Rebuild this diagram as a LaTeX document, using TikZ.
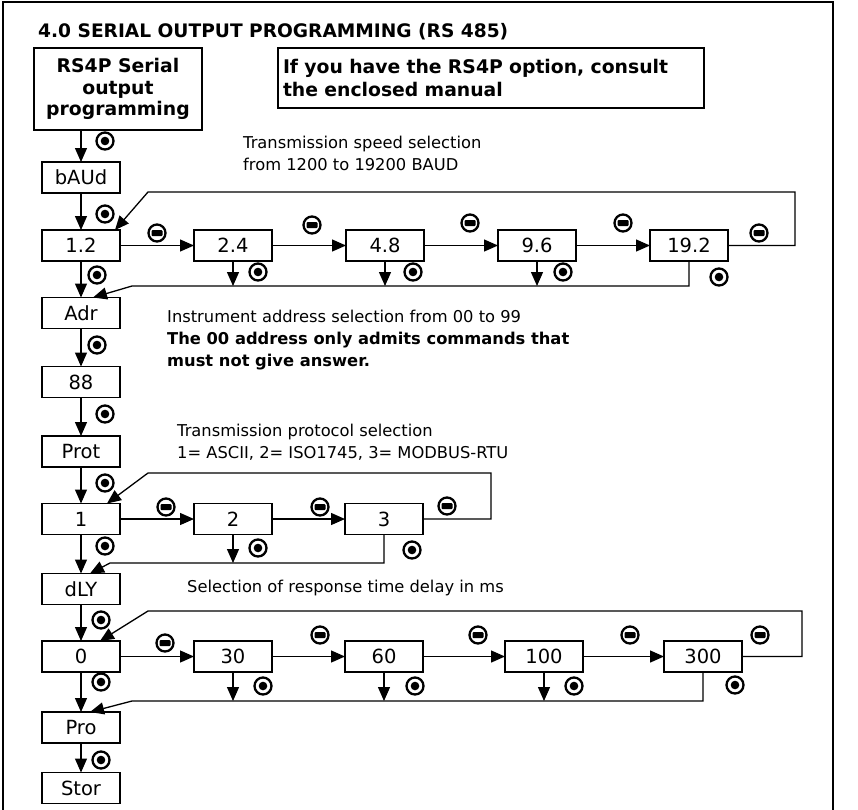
\documentclass[tikz,border=0pt]{standalone}
\usepackage{fontspec}
\setmainfont{DejaVu Sans}
\usetikzlibrary{arrows.meta, positioning}

\begin{document}
\begin{tikzpicture}[
  x=1pt, y=-1pt,
  font=\fontsize{16.3}{22}\selectfont,
  val/.style={draw, line width=1.3pt, minimum width=78pt, minimum height=31pt, inner sep=0pt, outer sep=0pt, font=\fontsize{19.5}{22}\selectfont},
  info/.style={anchor=west, align=left, inner sep=0pt},
  arr/.style={line width=1.3pt, -{Triangle[length=14pt,width=12pt]}},
  okkey/.style={circle, draw, line width=2.3pt, minimum size=17pt, inner sep=0pt,
    path picture={\fill (path picture bounding box.center) circle (4.3pt);}},
  dnkey/.style={circle, draw, line width=2.3pt, minimum size=17pt, inner sep=0pt,
    path picture={\fill[rounded corners=1pt] ([xshift=-5.5pt,yshift=-3pt]path picture bounding box.center) rectangle ([xshift=5.5pt,yshift=3pt]path picture bounding box.center);}}
]
\useasboundingbox (0,0) rectangle (858,809);
\draw[line width=2pt] (3,812) -- (3,2) -- (833,2) -- (833,812);

\node[anchor=base west, inner sep=0pt, font=\bfseries\fontsize{18.6}{22}\selectfont] (title) at (38,37) {4.0 SERIAL OUTPUT PROGRAMMING (RS 485)};
\node[draw, line width=1.3pt, minimum width=168pt, minimum height=82pt, align=center, font=\bfseries\fontsize{18.8}{21.5}\selectfont] (rs4p) at (118,89) {RS4P Serial\\output\\programming};
\node[draw, line width=1.3pt, minimum width=426pt, minimum height=60pt, text width=416pt, inner xsep=5pt, align=left, font=\bfseries\fontsize{18.8}{23}\selectfont] (note) at (491,78) {If you have the RS4P option, consult\\the enclosed manual};

% menu column
\node[val] (baud) at (81,177.5) {bAUd};
\node[val, below=37pt of baud] (b12) {1.2};
\node[val, below=36.5pt of b12] (adr) {Adr};
\node[val, below=38pt of adr] (addr) {88};
\node[val, below=38.5pt of addr] (prot) {Prot};
\node[val, below=36.5pt of prot] (p1) {1};
\node[val, below=39pt of p1] (dly) {dLY};
\node[val, below=36.5pt of dly] (d0) {0};
\node[val, below=40pt of d0] (pro) {Pro};
\node[val, below=29.5pt of pro] (stor) {Stor};

% baud rates
\node[val, right=74pt of b12] (b24) {2.4};
\node[val, right=74pt of b24] (b48) {4.8};
\node[val, right=74pt of b48] (b96) {9.6};
\node[val, right=74pt of b96] (b192) {19.2};

% protocols
\node[val, right=74pt of p1] (p2) {2};
\node[val, right=73pt of p2] (p3) {3};

% delays
\node[val, right=74pt of d0] (d30) {30};
\node[val, right=73pt of d30] (d60) {60};
\node[val, right=82pt of d60] (d100) {100};
\node[val, right=81pt of d100] (d300) {300};

\node[info] (speed) at (243,153) {Transmission speed selection\\from 1200 to 19200 BAUD};
\node[info] (address) at (167,340) {Instrument address selection from 00 to 99\\\textbf{The 00 address only admits commands that}\\\textbf{must not give answer.}};
\node[info] (protocol) at (177,442) {Transmission protocol selection\\1= ASCII, 2= ISO1745, 3= MODBUS-RTU};
\node[info] (delay) at (187,588) {Selection of response time delay in ms};

\draw[arr] (baud.north |- rs4p.south) -- (baud);
\draw[arr] (baud) -- (b12);
\draw[arr] (b12) -- (adr);
\draw[arr] (adr) -- (addr);
\draw[arr] (addr) -- (prot);
\draw[arr] (prot) -- (p1);
\draw[arr] (p1) -- (dly);
\draw[arr] (dly) -- (d0);
\draw[arr] (d0) -- (pro);
\draw[arr] (pro) -- (stor);

\draw[arr] (b12) -- (b24);
\draw[arr] (b24) -- (b48);
\draw[arr] (b48) -- (b96);
\draw[arr] (b96) -- (b192);
\draw[arr] (p1) -- (p2);
\draw[arr] (p2) -- (p3);
\draw[arr] (d0) -- (d30);
\draw[arr] (d30) -- (d60);
\draw[arr] (d60) -- (d100);
\draw[arr] (d100) -- (d300);

% wrap-around loops
\coordinate (loopA) at (795,192);
\coordinate (loopAl) at (148,192);
\draw[arr] (b192.east) -| (loopA) -- (loopAl) -- ([xshift=-5pt]b12.north east);
\coordinate (loopB) at (491,473);
\coordinate (loopBl) at (148,473);
\draw[arr] (p3.east) -| (loopB) -- (loopBl) -- ([xshift=-13pt]p1.north east);
\coordinate (loopC) at (802,611);
\coordinate (loopCl) at (148,611);
\draw[arr] (d300.east) -| (loopC) -- (loopCl) -- ([xshift=-20pt]d0.north east);

% confirm returns
\coordinate (backA) at (132,286);
\draw[arr] (b192.south) |- (backA) -- ([xshift=12pt]adr.north);
\draw[arr] (b24.south) -- (b24.south |- backA);
\draw[arr] (b48.south) -- (b48.south |- backA);
\draw[arr] (b96.south) -- (b96.south |- backA);
\coordinate (backB) at (110,563);
\draw[arr] (p3.south) |- (backB) -- ([xshift=9pt]dly.north);
\draw[arr] (p2.south) -- (p2.south |- backB);
\coordinate (backC) at (132,701);
\draw[arr] (d300.south) |- (backC) -- ([xshift=9pt]pro.north);
\draw[arr] (d30.south) -- (d30.south |- backC);
\draw[arr] (d60.south) -- (d60.south |- backC);
\draw[arr] (d100.south) -- (d100.south |- backC);

% keys
\node[okkey] (ok0) at (105,141) {};
\node[okkey] (ok1) at (105,214) {};
\node[okkey] (ok2) at (97,275) {};
\node[okkey] (ok3) at (97,345) {};
\node[okkey] (ok4) at (105,414) {};
\node[okkey] (ok5) at (105,483) {};
\node[okkey] (ok6) at (105,546) {};
\node[okkey] (ok7) at (101,620) {};
\node[okkey] (ok8) at (101,682) {};
\node[okkey] (ok9) at (101,760) {};
\node[okkey] (okb24) at (258,272) {};
\node[okkey] (okb48) at (413,272) {};
\node[okkey] (okb96) at (563,272) {};
\node[okkey] (okb192) at (719,277) {};
\node[okkey] (okp2) at (258,548) {};
\node[okkey] (okp3) at (412,550) {};
\node[okkey] (okd30) at (263,686) {};
\node[okkey] (okd60) at (415,686) {};
\node[okkey] (okd100) at (574,686) {};
\node[okkey] (okd300) at (735,685) {};

\node[dnkey] (dnb12) at (157,233) {};
\node[dnkey] (dnb24) at (312,225) {};
\node[dnkey] (dnb48) at (470,223) {};
\node[dnkey] (dnb96) at (623,223) {};
\node[dnkey] (dnb192) at (759,233) {};
\node[dnkey] (dnp1) at (166,507) {};
\node[dnkey] (dnp2) at (320,507) {};
\node[dnkey] (dnp3) at (447,506) {};
\node[dnkey] (dnd0) at (165,643) {};
\node[dnkey] (dnd30) at (320,635) {};
\node[dnkey] (dnd60) at (478,635) {};
\node[dnkey] (dnd100) at (630,635) {};
\node[dnkey] (dnd300) at (760,635) {};
\end{tikzpicture}
\end{document}
